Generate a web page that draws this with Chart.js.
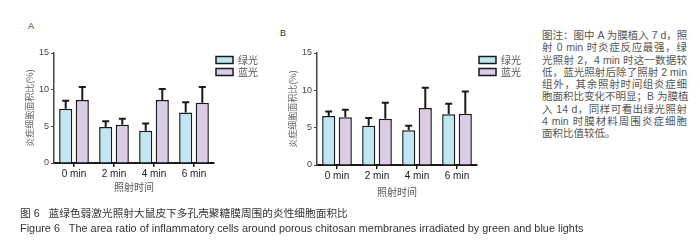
<!DOCTYPE html>
<html>
<head>
<meta charset="utf-8">
<script src="https://cdn.jsdelivr.net/npm/chart.js@4.4.0/dist/chart.umd.min.js"></script>
<style>
    body { margin: 0; width: 700px; height: 245px; background: #fff; position: relative; overflow: hidden;
           font-family: "Liberation Sans", "Noto Sans CJK SC", sans-serif; }
    .box { position: absolute; }
    .tag { position: absolute; font-size: 9px; color: #333; }
    #note { position: absolute; left: 542px; top: 29px; width: 145px; font-size: 10.5px; line-height: 12.3px; color: #555; }
    #note div { text-align: justify; text-align-last: justify; white-space: nowrap; }
    #note div.last { text-align-last: left; }
    .cap { position: absolute; left: 20px; line-height: 12px; color: #333; white-space: pre; }
</style>
</head>
<body>
<div class="tag" style="left:28px;top:21px;">A</div>
<div class="tag" style="left:280px;top:28px;">B</div>
<div class="box" style="left:0px;top:40px;width:270px;height:165px;"><canvas id="chartA"></canvas></div>
<div class="box" style="left:270px;top:40px;width:270px;height:168px;"><canvas id="chartB"></canvas></div>

<div id="note">
    <div>图注：图中 A 为膜植入 7 d，照</div>
    <div>射 0 min 时炎症反应最强，绿</div>
    <div>光照射 2，4 min 时这一数据较</div>
    <div>低，蓝光照射后除了照射 2 min</div>
    <div>组外，其余照射时间组炎症细</div>
    <div>胞面积比变化不明显；B 为膜植</div>
    <div>入 14 d，同样可看出绿光照射</div>
    <div>4 min 时膜材料周围炎症细胞</div>
    <div class="last">面积比值较低。</div>
</div>

<div class="cap" style="top:207px;font-size:10.7px;">图 6   蓝绿色弱激光照射大鼠皮下多孔壳聚糖膜周围的炎性细胞面积比</div>
<div class="cap" style="top:222px;font-size:10.9px;">Figure 6   The area ratio of inflammatory cells around porous chitosan membranes irradiated by green and blue lights</div>

<script>
// datos
const categories = ['0 min', '2 min', '4 min', '6 min'];
const seriesNames = ['绿光', '蓝光'];
const yTicks = [0, 5, 10, 15];

// A: 7 d
const greenA = [7.4, 4.9, 4.4, 6.9];
const greenAErr = [1.1, 0.8, 1.0, 1.4];
const blueA = [8.6, 5.2, 8.6, 8.2];
const blueAErr = [1.75, 0.85, 1.5, 2.15];

// B: 14 d
const greenB = [6.55, 5.25, 4.65, 6.8];
const greenBErr = [0.6, 1.05, 0.6, 1.4];
const blueB = [6.4, 6.2, 7.65, 6.85];
const blueBErr = [1.0, 2.15, 2.7, 3.0];

const greenColor = '#bfe7f2';
const blueColor = '#dccbe5';
const cjk = '"Noto Sans CJK SC", sans-serif';
const latin = '"Liberation Sans", Arial, sans-serif';

// barras de error (solo hacia arriba)
const errorBarPlugin = {
    id: 'errorBars',
    afterDatasetsDraw(chart) {
        const ctx = chart.ctx;
        const yScale = chart.scales.y;
        chart.data.datasets.forEach((ds, i) => {
            const meta = chart.getDatasetMeta(i);
            meta.data.forEach((bar, j) => {
                const top = yScale.getPixelForValue(ds.data[j] + ds.errUp[j]);
                ctx.save();
                ctx.strokeStyle = '#1a1a1a';
                ctx.lineWidth = 2;
                ctx.beginPath();
                ctx.moveTo(bar.x, bar.y);
                ctx.lineTo(bar.x, top);
                ctx.moveTo(bar.x - 3.5, top);
                ctx.lineTo(bar.x + 3.5, top);
                ctx.stroke();
                ctx.restore();
            });
        });
    }
};

function makeChart(id, green, greenErr, blue, blueErr, g) {
    const ctx = document.getElementById(id).getContext('2d');
    return new Chart(ctx, {
        type: 'bar',
        data: {
            labels: categories,
            datasets: [{
                label: seriesNames[0],
                data: green,
                errUp: greenErr,
                backgroundColor: greenColor,
                borderColor: '#1a1a1a',
                borderWidth: 1.5,
                categoryPercentage: 0.83,
                barPercentage: 0.79
            }, {
                label: seriesNames[1],
                data: blue,
                errUp: blueErr,
                backgroundColor: blueColor,
                borderColor: '#1a1a1a',
                borderWidth: 1.5,
                categoryPercentage: 0.83,
                barPercentage: 0.79
            }]
        },
        options: {
            responsive: true,
            maintainAspectRatio: false,
            animation: false,
            layout: { padding: { left: g.padLeft, top: g.padTop, right: g.padRight, bottom: 0 } },
            plugins: {
                tooltip: { enabled: false },
                legend: {
                    position: 'right',
                    align: 'start',
                    fullSize: false,
                    labels: {
                        boxWidth: 17,
                        boxHeight: 7,
                        padding: 2,
                        color: '#555',
                        font: { family: cjk, size: 10 }
                    }
                }
            },
            scales: {
                x: {
                    border: { color: '#1a1a1a', width: 2 },
                    grid: { drawOnChartArea: false, offset: false, tickLength: 4, color: '#1a1a1a', lineWidth: 1.5 },
                    ticks: { color: '#222', padding: 1, font: { family: latin, size: 10 } },
                    title: {
                        display: true,
                        text: '照射时间',
                        color: '#555',
                        font: { family: cjk, size: 10 },
                        padding: { top: 0, bottom: g.titlePad }
                    },
                    afterFit: (s) => { s.height = g.xHeight; }
                },
                y: {
                    min: 0,
                    max: 15,
                    border: { color: '#444', width: 1.5 },
                    grid: { drawOnChartArea: false, tickLength: 3, color: '#444' },
                    afterBuildTicks: (s) => { s.ticks = yTicks.map(v => ({ value: v })); },
                    ticks: { color: '#444', padding: 2, font: { family: latin, size: 9 } },
                    title: {
                        display: true,
                        text: '炎症细胞面积比(%)',
                        color: '#666',
                        font: { family: cjk, size: 9 },
                        padding: 0
                    },
                    afterFit: (s) => { s.width = g.yWidth; }
                }
            }
        },
        plugins: [errorBarPlugin]
    });
}

makeChart('chartA', greenA, greenAErr, blueA, blueAErr,
    { padLeft: 24, padTop: 13, padRight: 2, yWidth: 30, xHeight: 42, titlePad: 12 });
makeChart('chartB', greenB, greenBErr, blueB, blueBErr,
    { padLeft: 17, padTop: 13, padRight: 9, yWidth: 30, xHeight: 43, titlePad: 10 });
</script>
</body>
</html>
